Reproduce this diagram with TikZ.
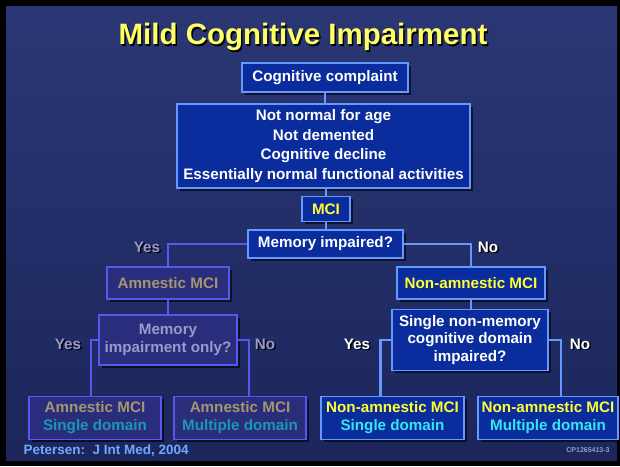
\documentclass[tikz,border=0pt]{standalone}
\usepackage{fontspec}
\setmainfont{Liberation Sans}
\usetikzlibrary{shadows}
\definecolor{slideedge}{HTML}{000000}
\definecolor{slidetop}{HTML}{2A3774}
\definecolor{slidebottom}{HTML}{1C265C}
\definecolor{mcibox}{HTML}{0A2C9C}
\definecolor{mciedge}{HTML}{6699FF}
\definecolor{amnbox}{HTML}{2A2D7C}
\definecolor{amnedge}{HTML}{5858F0}
\definecolor{mciyellow}{HTML}{FFFF33}
\definecolor{titleyellow}{HTML}{FFFF66}
\definecolor{amnkhaki}{HTML}{A39770}
\definecolor{amngray}{HTML}{9A9ACC}
\definecolor{amnteal}{HTML}{1A98B0}
\definecolor{noncyan}{HTML}{33E8F0}
\definecolor{citeblue}{HTML}{70A8FF}
\definecolor{codegray}{HTML}{8FA0D0}
\newcommand{\boxfont}{\fontsize{15.2}{18}\selectfont\bfseries}
\newcommand{\shadowlabel}[1]{\makebox[0pt][l]{\raisebox{-1.5pt}{\hspace{1.5pt}\textcolor{black}{#1}}}#1}

\begin{document}
\begin{tikzpicture}[x=1pt, y=-1pt,
        box/.style={draw=mciedge, fill=mcibox, line width=1.8pt, text=white, font=\boxfont, align=center, inner sep=0pt,
          drop shadow={shadow xshift=2.5pt, shadow yshift=-2.5pt, fill=black, opacity=0.6}},
        abox/.style={box, draw=amnedge, fill=amnbox},
        link/.style={line width=2.2pt, mciedge},
        alink/.style={link, amnedge},
        answer/.style={font=\boxfont}]
      \useasboundingbox (0,0) rectangle (620,466);
      \fill[slideedge] (0,0) rectangle (620,466);
      \shade[top color=slidetop, bottom color=slidebottom] (6,6) rectangle (617,460);

      \node[font=\fontsize{29.5}{32}\selectfont\bfseries, text=titleyellow] (title) at (303,38) {\shadowlabel{Mild Cognitive Impairment}};

      \node[box, minimum width=166pt, minimum height=29pt] (complaint) at (325,77.5) {Cognitive complaint};
      \node[box, minimum width=293pt, minimum height=84pt, font=\fontsize{15.2}{19.5}\selectfont\bfseries] (criteria) at (323.5,146)
        {Not normal for age\\Not demented\\Cognitive decline\\Essentially normal functional activities};
      \node[box, text=mciyellow, minimum width=48pt, minimum height=25pt] (mci) at (326,209) {MCI};
      \node[box, minimum width=155pt, minimum height=28pt] (memq) at (325.5,244) {Memory impaired?};

      \node[abox, text=amnkhaki, minimum width=122pt, minimum height=32pt] (amn) at (168,283) {Amnestic MCI};
      \node[box, text=mciyellow, minimum width=148pt, minimum height=32pt] (nonamn) at (471,283) {Non-amnestic MCI};
      \node[abox, text=amngray, minimum width=138pt, minimum height=50pt] (amnq) at (168,340) {Memory\\impairment only?};
      \node[box, minimum width=156pt, minimum height=61pt, font=\fontsize{15.2}{17.5}\selectfont\bfseries] (nonq) at (470,340)
        {Single non-memory\\cognitive domain\\impaired?};

      \node[abox, minimum width=132pt, minimum height=43pt] (amnsingle) at (95,418)
        {\textcolor{amnkhaki}{Amnestic MCI}\\\textcolor{amnteal}{Single domain}};
      \node[abox, minimum width=132pt, minimum height=43pt] (amnmulti) at (240,418)
        {\textcolor{amnkhaki}{Amnestic MCI}\\\textcolor{amnteal}{Multiple domain}};
      \node[box, minimum width=143pt, minimum height=43pt] (nonsingle) at (392.5,418)
        {\textcolor{mciyellow}{Non-amnestic MCI}\\\textcolor{noncyan}{Single domain}};
      \node[box, minimum width=140pt, minimum height=43pt] (nonmulti) at (548,418)
        {\textcolor{mciyellow}{Non-amnestic MCI}\\\textcolor{noncyan}{Multiple domain}};

      % yes / no answers
      \node[answer, text=amngray] (memyes) at (147,248) {\shadowlabel{Yes}};
      \node[answer, text=white] (memno) at (488,248) {\shadowlabel{No}};
      \node[answer, text=amngray] (amnyes) at (68,345) {\shadowlabel{Yes}};
      \node[answer, text=amngray] (amnno) at (265,345) {\shadowlabel{No}};
      \node[answer, text=white] (nonyes) at (357,345) {\shadowlabel{Yes}};
      \node[answer, text=white] (nonno) at (580,345) {\shadowlabel{No}};

      \draw[link] (complaint.south) -- (complaint.south |- criteria.north);
      \draw[link] (mci.north) -- (mci.north |- criteria.south);
      \draw[link] (mci.south) -- (mci.south |- memq.north);
      \draw[alink] (memq.west) -| (amn.north);
      \draw[link] (memq.east) -| (nonamn.north);
      \draw[alink] (amn.south) -- (amnq.north);
      \draw[link] (nonamn.south) -- (nonamn.south |- nonq.north);
      \draw[alink] (amnq.west) -| ([xshift=-4pt]amnsingle.north);
      \draw[alink] (amnq.east) -| ([xshift=9pt]amnmulti.north);
      \draw[link] (nonq.west) -| ([xshift=-12pt]nonsingle.north);
      \draw[link] (nonq.east) -| ([xshift=13pt]nonmulti.north);

      \node[font=\fontsize{13.5}{15}\selectfont\bfseries, text=citeblue, anchor=west] (cite) at (20,451) {Petersen:\ \ J Int Med, 2004};
      \node[font=\fontsize{7}{8}\selectfont\bfseries, text=codegray] (code) at (588,450) {CP1265413-3};
    \end{tikzpicture}
\end{document}
